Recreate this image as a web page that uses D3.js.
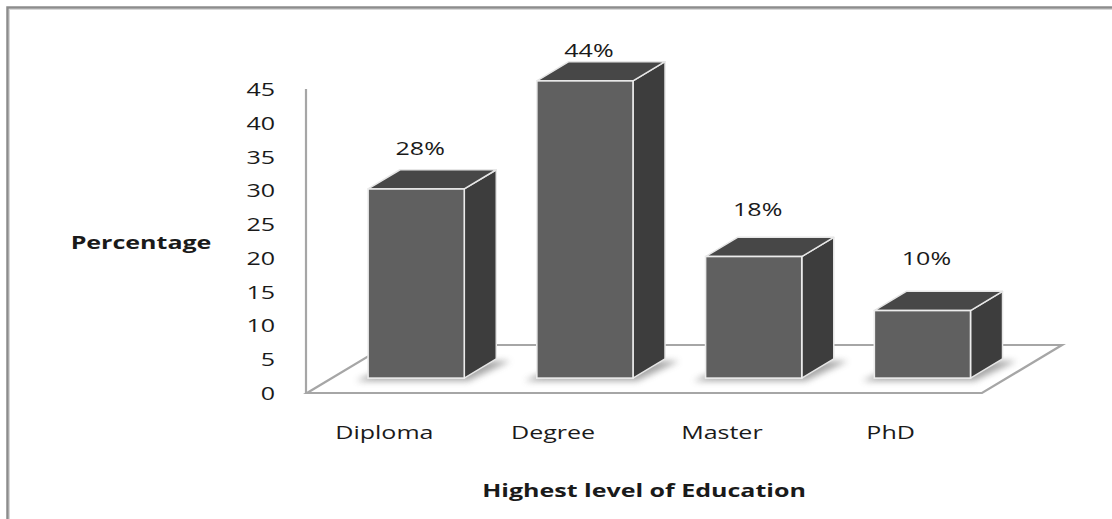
<!DOCTYPE html>
<html>
<head>
<meta charset="utf-8">
<script src="https://cdn.jsdelivr.net/npm/d3@7"></script>
<style>
  html, body { margin: 0; padding: 0; background: #fff; }
  svg { display: block; }
  text { font-family: "Open Sans", sans-serif; fill: #1a1a1a; }
</style>
</head>
<body>
<svg id="chart" width="1112" height="519"></svg>
<script>
// ---- data ----
const categories = ["Diploma", "Degree", "Master", "PhD"];
const values = [28, 44, 18, 10];
const valueLabels = ["28%", "44%", "18%", "10%"];
const yTicks = [0, 5, 10, 15, 20, 25, 30, 35, 40, 45];
const xTitle = "Highest level of Education";
const yTitle = "Percentage";

// ---- layout ----
const W = 1112, H = 519;
const svg = d3.select("#chart");
const SX = 1.39;           // horizontal text stretch of the original
const FS = 18;

// front plane of the 3D box
const floorLeft = 307, floorRight = 982, floorFrontY = 393;
const depth = { dx: 80, dy: -48 };        // full floor depth
const barFront = 0.31, barBack = 0.71;    // depth fractions of bar faces

const x = d3.scaleBand().domain(categories)
  .range([floorLeft, floorRight]).paddingInner(0.43).paddingOuter(0.215);
const y = d3.scaleLinear().domain([0, 45]).range([floorFrontY, 89]);
const yLabel = d3.scaleLinear().domain([0, 45]).range([320, 44.6]);

const defs = svg.append("defs");
defs.append("filter").attr("id", "blur").attr("x", "-50%").attr("y", "-50%")
  .attr("width", "200%").attr("height", "200%")
  .append("feGaussianBlur").attr("stdDeviation", 3.2);

// outer border
svg.append("rect").attr("x", 7.5).attr("y", 7.5).attr("width", W + 20).attr("height", H + 20)
  .attr("fill", "none").attr("stroke", "#8c8c8c").attr("stroke-width", 2.5);
svg.append("rect").attr("x", 9.5).attr("y", 9.5).attr("width", W + 20).attr("height", H + 20)
  .attr("fill", "none").attr("stroke", "#d8d8d8").attr("stroke-width", 1);

function stretchedText(g, tx, ty, str, anchor) {
  return g.append("text")
    .attr("transform", `translate(${tx},${ty}) scale(${SX},1)`)
    .attr("text-anchor", anchor || "middle")
    .text(str);
}

// side wall front edge (vertical axis line)
svg.append("line").attr("x1", floorLeft - 1).attr("x2", floorLeft - 1)
  .attr("y1", y(45)).attr("y2", y(0))
  .attr("stroke", "#a6a6a6").attr("stroke-width", 2.2);

// floor
const fl = [
  [floorLeft, floorFrontY],
  [floorRight, floorFrontY],
  [floorRight + depth.dx, floorFrontY + depth.dy],
  [floorLeft + depth.dx, floorFrontY + depth.dy]
];
svg.append("path").attr("d", d3.line()(fl) + "Z")
  .attr("fill", "#fff").attr("stroke", "#a6a6a6").attr("stroke-width", 2.2)
  .attr("stroke-linejoin", "miter");

// y tick labels
const tickG = svg.append("g").style("font-size", FS + "px");
yTicks.forEach(t => {
  stretchedText(tickG, 275, y(t) + 7, String(t), "end");
});

// bars
const barsG = svg.append("g");
const bw = x.bandwidth();
const fdx = depth.dx * barFront, fdy = depth.dy * barFront;
const bdx = depth.dx * (barBack - barFront), bdy = depth.dy * (barBack - barFront);

categories.forEach((c, i) => {
  const v = values[i];
  const x0 = x(c) + fdx;
  const x1 = x0 + bw;
  const yb = y(0) + fdy;
  const yt = y(v) + fdy;
  // shadow
  barsG.append("path")
    .attr("d", d3.line()([[x0 - 12, yb + 3], [x1 + 4, yb + 3], [x1 + bdx + 14, yb + bdy + 2], [x0 + bdx, yb + bdy + 2]]) + "Z")
    .attr("fill", "#8a8a8a").attr("opacity", 0.75).attr("filter", "url(#blur)");
  // side face
  barsG.append("path")
    .attr("d", d3.line()([[x1, yb], [x1 + bdx, yb + bdy], [x1 + bdx, yt + bdy], [x1, yt]]) + "Z")
    .attr("fill", "#3d3d3d").attr("stroke", "#e6e6e6").attr("stroke-width", 1.5).attr("stroke-linejoin", "round");
  // top face
  barsG.append("path")
    .attr("d", d3.line()([[x0, yt], [x1, yt], [x1 + bdx, yt + bdy], [x0 + bdx, yt + bdy]]) + "Z")
    .attr("fill", "#474747").attr("stroke", "#e6e6e6").attr("stroke-width", 1.5).attr("stroke-linejoin", "round");
  // front face
  barsG.append("rect").attr("x", x0).attr("y", yt).attr("width", bw).attr("height", yb - yt)
    .attr("fill", "#606060").attr("stroke", "#ececec").attr("stroke-width", 1.6);
});

// value labels
const vlG = svg.append("g").style("font-size", FS + "px");
categories.forEach((c, i) => {
  stretchedText(vlG, x(c) + fdx + bw / 2 + 4, yLabel(values[i]) + 6, valueLabels[i]);
});

// category labels
const catG = svg.append("g").style("font-size", FS + "px");
categories.forEach(c => {
  stretchedText(catG, x(c) + bw / 2 - 7, 439, c);
});

// axis titles
const titleG = svg.append("g").style("font-size", FS + "px").style("font-weight", "bold");
stretchedText(titleG, 644, 497, xTitle);
stretchedText(titleG, 141, 249, yTitle);
</script>
</body>
</html>
